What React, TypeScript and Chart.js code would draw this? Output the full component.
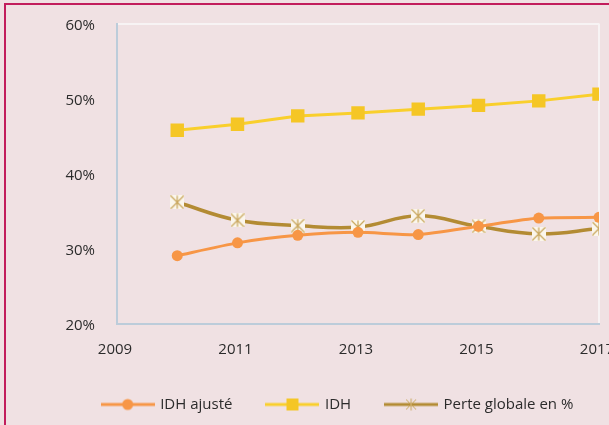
import React, { useEffect, useRef } from "react";
import { Chart, registerables } from "chart.js";

Chart.register(...registerables);

const years = [2010, 2011, 2012, 2013, 2014, 2015, 2016, 2017];
const idhAjuste = [29.1, 30.8, 31.8, 32.2, 31.9, 33.0, 34.1, 34.2];
const idh = [45.8, 46.6, 47.7, 48.1, 48.6, 49.1, 49.7, 50.6];
const perte = [36.2, 33.8, 33.1, 32.9, 34.4, 33.0, 32.0, 32.7];
const seriesNames = ["IDH ajusté", "IDH", "Perte globale en %"];
const yTicks = [20, 30, 40, 50, 60];
const xTicks = [2009, 2011, 2013, 2015, 2017];

const ORANGE = "#F79646";
const YELLOW = "#F5C625";
const YELLOW_LINE = "#F9CF2C";
const BROWN = "#B38B33";
const STAR = "#C9A65C";
const FONT = "'Open Sans', 'Noto Sans', sans-serif";
const TEXT = "#2B2B2B";
const W = 676;
const H = 425;

function drawStar(ctx: CanvasRenderingContext2D, cx: number, cy: number, s: number) {
  ctx.fillStyle = "#FBF6EC";
  ctx.fillRect(cx - s / 2, cy - s / 2, s, s);
  ctx.strokeStyle = STAR;
  ctx.lineWidth = 1.2;
  const r = s / 2 - 0.5;
  ctx.beginPath();
  ctx.moveTo(cx - r, cy - r);
  ctx.lineTo(cx + r, cy + r);
  ctx.moveTo(cx + r, cy - r);
  ctx.lineTo(cx - r, cy + r);
  ctx.moveTo(cx, cy - r);
  ctx.lineTo(cx, cy + r);
  ctx.stroke();
}

function makeStarImg() {
  const c = document.createElement("canvas");
  c.width = 14;
  c.height = 14;
  const ctx = c.getContext("2d")!;
  drawStar(ctx, 7, 7, 14);
  return c;
}

function makeLegendImg(kind: number) {
  const c = document.createElement("canvas");
  c.width = 54;
  c.height = 14;
  const ctx = c.getContext("2d")!;
  const color = kind === 0 ? ORANGE : kind === 1 ? YELLOW_LINE : BROWN;
  ctx.strokeStyle = color;
  ctx.lineWidth = 3;
  ctx.beginPath();
  ctx.moveTo(0, 7);
  ctx.lineTo(54, 7);
  ctx.stroke();
  if (kind === 0) {
    ctx.fillStyle = ORANGE;
    ctx.beginPath();
    ctx.arc(27, 7, 5.5, 0, Math.PI * 2);
    ctx.fill();
  } else if (kind === 1) {
    ctx.fillStyle = YELLOW;
    ctx.fillRect(21, 1, 12, 12);
  } else {
    ctx.strokeStyle = STAR;
    ctx.lineWidth = 1;
    ctx.beginPath();
    ctx.moveTo(22, 2);
    ctx.lineTo(32, 12);
    ctx.moveTo(32, 2);
    ctx.lineTo(22, 12);
    ctx.moveTo(27, 1);
    ctx.lineTo(27, 13);
    ctx.stroke();
  }
  return c;
}

export default function App() {
  const ref = useRef<HTMLCanvasElement>(null);

  useEffect(() => {
    const starImg = makeStarImg();
    const legendImgs = [0, 1, 2].map(makeLegendImg);
    const toPts = (vals: number[]) => vals.map((v, i) => ({ x: years[i], y: v }));
    const chart = new Chart(ref.current!, {
      type: "line",
      data: {
        datasets: [
          {
            label: seriesNames[0],
            data: toPts(idhAjuste),
            borderColor: ORANGE,
            backgroundColor: ORANGE,
            borderWidth: 3,
            pointStyle: "circle",
            pointRadius: 5.5,
            pointBorderWidth: 0,
            tension: 0.2,
          },
          {
            label: seriesNames[1],
            data: toPts(idh),
            borderColor: YELLOW_LINE,
            backgroundColor: YELLOW,
            borderWidth: 3,
            pointStyle: "rect",
            pointRadius: 9.5,
            pointBorderWidth: 0,
            tension: 0,
          },
          {
            label: seriesNames[2],
            data: toPts(perte),
            borderColor: BROWN,
            backgroundColor: BROWN,
            borderWidth: 3.5,
            pointStyle: starImg as any,
            pointRadius: 7,
            tension: 0.4,
          },
        ],
      },
      options: {
        animation: false,
        responsive: false,
        layout: { padding: { top: 23.5, left: 0, right: 0, bottom: 3 } },
        scales: {
          x: {
            type: "linear",
            min: 2009,
            max: 2017,
            afterBuildTicks: (s: any) => {
              s.ticks = xTicks.map((v) => ({ value: v }));
            },
            afterFit: (s: any) => {
              s.height = 38;
              s.paddingLeft = 0;
              s.paddingRight = W - 599;
            },
            grid: {
              drawTicks: false,
              color: (c: any) => (c.tick && c.tick.value === 2017 ? "#F7F3F4" : "transparent"),
              lineWidth: 2,
            },
            border: { color: "#BCCCDA", width: 2 },
            ticks: {
              padding: 16.5,
              labelOffset: -2,
              color: TEXT,
              font: { family: FONT, size: 15 },
              callback: (v: any) => String(v),
              maxRotation: 0,
            },
          },
          y: {
            min: 20,
            max: 60,
            afterBuildTicks: (s: any) => {
              s.ticks = yTicks.map((v) => ({ value: v }));
            },
            afterFit: (s: any) => {
              s.width = 117;
              s.paddingTop = 0;
              s.paddingBottom = 0;
            },
            grid: {
              drawTicks: false,
              color: (c: any) => (c.tick && c.tick.value === 60 ? "#F7F3F4" : "transparent"),
              lineWidth: 2,
            },
            border: { color: "#BCCCDA", width: 2 },
            ticks: {
              padding: 22,
              labelOffset: 2,
              color: TEXT,
              font: { family: FONT, size: 15 },
              callback: (v: any) => v + "%",
            },
          },
        },
        plugins: {
          tooltip: { enabled: false },
          legend: {
            position: "bottom",
            labels: {
              usePointStyle: true,
              pointStyleWidth: 50,
              padding: 35,
              color: TEXT,
              font: { family: FONT, size: 15 },
              generateLabels: (ch: any) => {
                const items = Chart.defaults.plugins.legend.labels.generateLabels(ch);
                return items.map((it: any, i: number) => ({ ...it, pointStyle: legendImgs[i] }));
              },
            },
          },
        },
      } as any,
    });
    return () => chart.destroy();
  }, []);

  return (
    <div
      style={{
        position: "fixed",
        left: 0,
        top: 0,
        width: 609,
        height: 425,
        overflow: "hidden",
        background: "#F0E1E3",
      }}
    >
      <div
        style={{
          position: "absolute",
          left: 4,
          top: 3,
          width: 720,
          height: 500,
          border: "2px solid #C21D5C",
          boxSizing: "border-box",
        }}
      />
      <canvas
        ref={ref}
        width={W}
        height={H}
        style={{ position: "absolute", left: 0, top: 0, width: W, height: H }}
      />
    </div>
  );
}
